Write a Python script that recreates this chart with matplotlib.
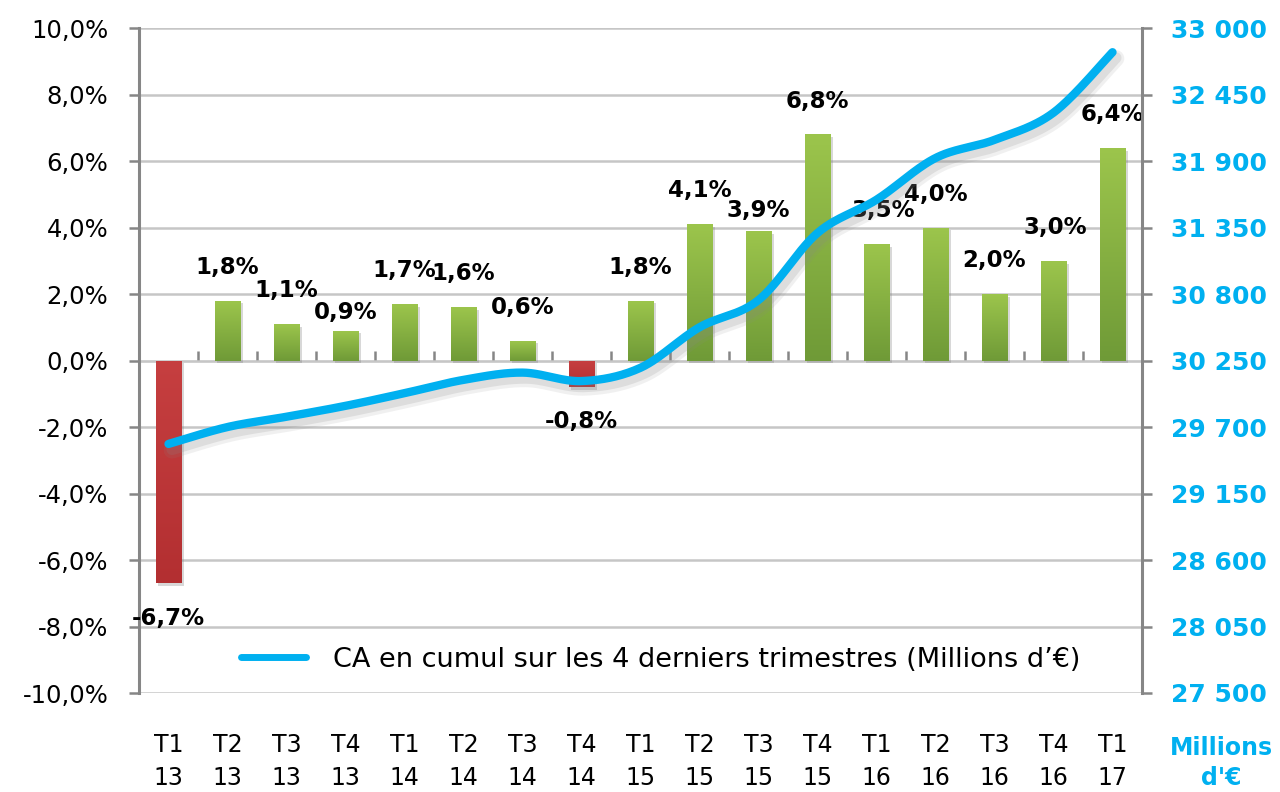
import numpy as np
import matplotlib
matplotlib.use("Agg")
import matplotlib.pyplot as plt
import matplotlib.patheffects as pe
from matplotlib.colors import LinearSegmentedColormap
from matplotlib.ticker import FuncFormatter, MultipleLocator

# ---- data ----
quarters = ["T1", "T2", "T3", "T4", "T1", "T2", "T3", "T4", "T1", "T2", "T3", "T4",
            "T1", "T2", "T3", "T4", "T1"]
years = ["13", "13", "13", "13", "14", "14", "14", "14", "15", "15", "15", "15",
         "16", "16", "16", "16", "17"]
growth = [-6.7, 1.8, 1.1, 0.9, 1.7, 1.6, 0.6, -0.8, 1.8, 4.1, 3.9, 6.8,
          3.5, 4.0, 2.0, 3.0, 6.4]
ca_cumul = [29560, 29700, 29785, 29875, 29980, 30090, 30150, 30080, 30190,
            30525, 30750, 31305, 31580, 31925, 32075, 32300, 32800]
legend_label = "CA en cumul sur les 4 derniers trimestres (Millions d\u2019\u20ac)"

FONT = "DejaVu Sans"
plt.rcParams["font.family"] = [FONT]

fig = plt.figure(figsize=(12.8, 7.92), dpi=100)
ax = fig.add_axes([0.1086, 0.125, 0.7836, 0.8396])
ax2 = ax.twinx()

n = len(growth)
x = np.arange(n)

grid_c = "#C6C6C6"
spine_c = "#868686"
cyan = "#00B0F0"

ax.yaxis.set_major_locator(MultipleLocator(2))
ax.grid(axis="y", color=grid_c, lw=1.8, zorder=0)
ax.set_axisbelow(True)

# bars
bars = ax.bar(x, growth, width=0.44, color="none", zorder=2)
green_cm = LinearSegmentedColormap.from_list("g", ["#6F9A37", "#9CC54C"])
red_cm = LinearSegmentedColormap.from_list("r", ["#B32F31", "#C63F40"])
grad = np.linspace(0, 1, 256).reshape(-1, 1)
for b, v in zip(bars, growth):
    x0, y0 = b.get_x(), b.get_y()
    w, h = b.get_width(), b.get_height()
    y_lo, y_hi = min(y0, y0 + h), max(y0, y0 + h)
    cm = green_cm if v >= 0 else red_cm
    img = ax.imshow(grad, extent=[x0, x0 + w, y_lo, y_hi], origin="lower",
                    aspect="auto", cmap=cm, zorder=2)
    img.set_clip_path(b)
    b.set_path_effects([pe.SimplePatchShadow(offset=(1.5, -2), shadow_rgbFace="#808080", alpha=0.3)])
ax.set_xlim(-0.5, n - 0.5)
ax.set_ylim(-10, 10)
ax2.set_ylim(27500, 33000)

# data labels (label offsets in points; a few nudged as in the original)
label_dy = {3: 13, 10: 15}
label_dx = {12: 5, 15: 1}
for i, (xi, v) in enumerate(zip(x, growth)):
    txt = f"{v:.1f}%".replace(".", ",")
    off = label_dy.get(i, 24 if v >= 0 else -25)
    ax.annotate(txt, (xi, v), xytext=(label_dx.get(i, 0), off), textcoords="offset points",
                ha="center", va="center", fontsize=16.5, fontweight="bold",
                color="black", zorder=5)

# smooth line (Bezier through points like Excel smoothed line)
def smooth(xs, ys, steps=30):
    xs = np.asarray(xs, float); ys = np.asarray(ys, float)
    px = np.concatenate([[xs[0]], xs, [xs[-1]]])
    py = np.concatenate([[ys[0]], ys, [ys[-1]]])
    ox, oy = [], []
    t = np.linspace(0, 1, steps)
    for i in range(1, len(px) - 2):
        p0 = np.array([px[i], py[i]]); p3 = np.array([px[i + 1], py[i + 1]])
        c1 = p0 + (np.array([px[i + 1], py[i + 1]]) - np.array([px[i - 1], py[i - 1]])) / 6
        c2 = p3 - (np.array([px[i + 2], py[i + 2]]) - np.array([px[i], py[i]])) / 6
        for tt in t:
            pt = (1 - tt) ** 3 * p0 + 3 * (1 - tt) ** 2 * tt * c1 + 3 * (1 - tt) * tt ** 2 * c2 + tt ** 3 * p3
            ox.append(pt[0]); oy.append(pt[1])
    return np.array(ox), np.array(oy)

sx, sy = smooth(x, ca_cumul)
line, = ax2.plot(sx, sy, color=cyan, lw=6, solid_capstyle="round", zorder=4,
                 label=legend_label)
line.set_path_effects([
    pe.SimpleLineShadow(offset=(2.5, -4.5), shadow_color="#888888", alpha=0.12, linewidth=12),
    pe.SimpleLineShadow(offset=(2.5, -4.0), shadow_color="#888888", alpha=0.18, linewidth=8),
    pe.Normal()])

# axes styling
for a in (ax, ax2):
    for s in a.spines.values():
        s.set_visible(False)
ax.spines["left"].set_visible(True)
ax.spines["left"].set_color(spine_c)
ax.spines["left"].set_linewidth(2.2)
ax2.spines["right"].set_visible(True)
ax2.spines["right"].set_color(spine_c)
ax2.spines["right"].set_linewidth(2.2)

ax.yaxis.set_major_formatter(FuncFormatter(lambda v, p: f"{v:.1f}%".replace(".", ",")))
ax.tick_params(axis="y", direction="out", length=7, width=1.8, color=spine_c,
               labelsize=17.5, pad=15, labelcolor="black")

ax2.yaxis.set_major_locator(MultipleLocator(550))
ax2.yaxis.set_major_formatter(FuncFormatter(lambda v, p: f"{int(round(v)):,}".replace(",", " ")))
ax2.tick_params(axis="y", direction="out", length=7, width=1.8, color=spine_c,
                labelsize=18, pad=14, labelcolor=cyan)
for t in ax2.get_yticklabels():
    t.set_fontweight("bold")

ax.set_xticks(x)
ax.set_xticklabels([f"{q}\n{y}" for q, y in zip(quarters, years)], fontsize=17,
                   linespacing=1.45)
ax.tick_params(axis="x", length=0, pad=29)

# category axis at zero
sec = ax.secondary_xaxis(0.5)
sec.set_xticks(np.arange(n + 1) - 0.5)
sec.set_xticklabels([])
sec.tick_params(axis="x", direction="out", length=7, width=1.8, color=spine_c)
sec.spines["bottom"].set_color(spine_c)
sec.spines["bottom"].set_linewidth(2.2)

ax2.text(1.0788, -0.1055, "Millions\nd'\u20ac", transform=ax2.transAxes, ha="center",
         va="center", color=cyan, fontsize=17, fontweight="bold", linespacing=1.3)

leg = ax2.legend(loc="center", bbox_to_anchor=(0.52, 0.05), frameon=False,
                 fontsize=19.5, handlelength=2.4, handletextpad=1.0)
leg.get_lines()[0].set_linewidth(5)
leg.get_lines()[0].set_path_effects([])

fig.savefig("out.png", dpi=100, facecolor="white")
